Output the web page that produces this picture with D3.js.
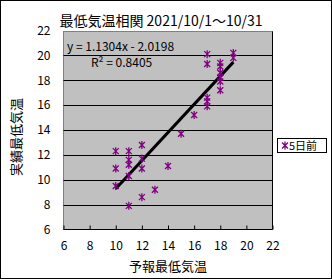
<!DOCTYPE html>
<html>
<head>
<meta charset="utf-8">
<script src="https://cdn.jsdelivr.net/npm/d3@7"></script>
<style>
  body { margin: 0; background: #fff; }
  svg text { font-family: "Noto Sans CJK JP", "DejaVu Sans", sans-serif; fill: #000; }
</style>
</head>
<body>
<svg id="chart" width="332" height="279"></svg>
<script>
// 予報 (x) vs 実績 (y) minimum temperatures
var forecast = [10, 10, 10, 11, 11, 11, 11, 11, 12, 12, 12, 12, 13, 14, 15, 16,
                17, 17, 17, 17, 17, 18, 18, 18, 18, 18, 18, 19, 19];
var actual   = [12.3, 10.9, 9.5, 12.3, 11.6, 11.2, 10.3, 7.9, 12.8, 11.7, 10.9, 8.6, 9.2, 11.1, 13.7, 15.2,
                20.1, 19.3, 16.6, 16.3, 15.9, 19.4, 19.1, 18.6, 18.2, 17.9, 17.2, 20.2, 19.8];
var ticks = [6, 8, 10, 12, 14, 16, 18, 20, 22];
var trend = [1.1304, -2.0198]; // slope, intercept
var eqText = "y = 1.1304x - 2.0198";
var r2Text = "R² = 0.8405";
var seriesName = "5日前";

var svg = d3.select("#chart");
var pLeft = 63.5, pRight = 272.5, pTop = 30.5, pBottom = 229.5;

var x = d3.scaleLinear().domain([6, 22]).range([pLeft, pRight]);
var y = d3.scaleLinear().domain([6, 22]).range([pBottom, pTop]);

// outer frame
svg.append("rect")
    .attr("x", 0.5).attr("y", 0.5)
    .attr("width", 331).attr("height", 278)
    .attr("fill", "#fff").attr("stroke", "#000");

// plot area
svg.append("rect")
    .attr("x", pLeft).attr("y", pTop + 1)
    .attr("width", pRight - pLeft).attr("height", pBottom - pTop - 1)
    .attr("fill", "#c0c0c0").attr("stroke", "#808080");

// gridlines
svg.append("g").selectAll("line")
    .data(ticks.filter(d => d > 6 && d < 22))
    .enter().append("line")
    .attr("x1", pLeft).attr("x2", pRight)
    .attr("y1", d => Math.round(y(d)) + 0.5).attr("y2", d => Math.round(y(d)) + 0.5)
    .attr("stroke", "#000");

// right + bottom edge
svg.append("path")
    .attr("d", "M" + pRight + "," + (pTop + 1) + "V" + pBottom + "H" + pLeft)
    .attr("fill", "none").attr("stroke", "#000");

// x axis
var xAxis = svg.append("g")
    .attr("transform", "translate(0," + pBottom + ")")
    .call(d3.axisBottom(x).tickValues(ticks).tickSizeInner(-4).tickSizeOuter(0).tickPadding(12));
xAxis.select(".domain").remove();
xAxis.selectAll("text").attr("font-size", 12);

// y axis
var yAxis = svg.append("g")
    .attr("transform", "translate(" + pLeft + ",0)")
    .call(d3.axisLeft(y).tickValues(ticks).tickSize(0).tickPadding(13));
yAxis.select(".domain").remove();
yAxis.selectAll("text").attr("font-size", 12);

// trendline
var xr = d3.extent(forecast);
svg.append("line")
    .attr("x1", x(xr[0])).attr("y1", y(trend[0] * xr[0] + trend[1]))
    .attr("x2", x(xr[1])).attr("y2", y(trend[0] * xr[1] + trend[1]))
    .attr("stroke", "#000").attr("stroke-width", 3);

// asterisk markers
var star = "M-3,-3L3,3M-3,3L3,-3M0,-4V4";
svg.append("g").selectAll("path")
    .data(forecast)
    .enter().append("path")
    .attr("transform", (d, i) => "translate(" + x(d) + "," + y(actual[i]) + ")")
    .attr("d", star)
    .attr("stroke", "#800080").attr("stroke-width", 1.3).attr("fill", "none");

// equation labels
svg.append("text").attr("x", 67).attr("y", 51).attr("font-size", 12).text(eqText);
svg.append("text").attr("x", 91).attr("y", 67).attr("font-size", 12).text(r2Text);

// title
svg.append("text")
    .attr("x", 161).attr("y", 26)
    .attr("text-anchor", "middle").attr("font-size", 14)
    .text("最低気温相関  2021/10/1～10/31");

// axis titles
svg.append("text")
    .attr("x", 168).attr("y", 271)
    .attr("text-anchor", "middle").attr("font-size", 13)
    .text("予報最低気温");
svg.append("text")
    .attr("transform", "translate(21,137) rotate(-90)")
    .attr("text-anchor", "middle").attr("font-size", 13)
    .text("実績最低気温");

// legend
svg.append("rect")
    .attr("x", 277.5).attr("y", 138.5)
    .attr("width", 49).attr("height", 14)
    .attr("fill", "#fff").attr("stroke", "#000");
svg.append("path")
    .attr("transform", "translate(285,145.5)")
    .attr("d", star)
    .attr("stroke", "#800080").attr("stroke-width", 1.3).attr("fill", "none");
svg.append("text")
    .attr("x", 289).attr("y", 150)
    .attr("font-size", 11)
    .text(seriesName);
</script>
</body>
</html>
